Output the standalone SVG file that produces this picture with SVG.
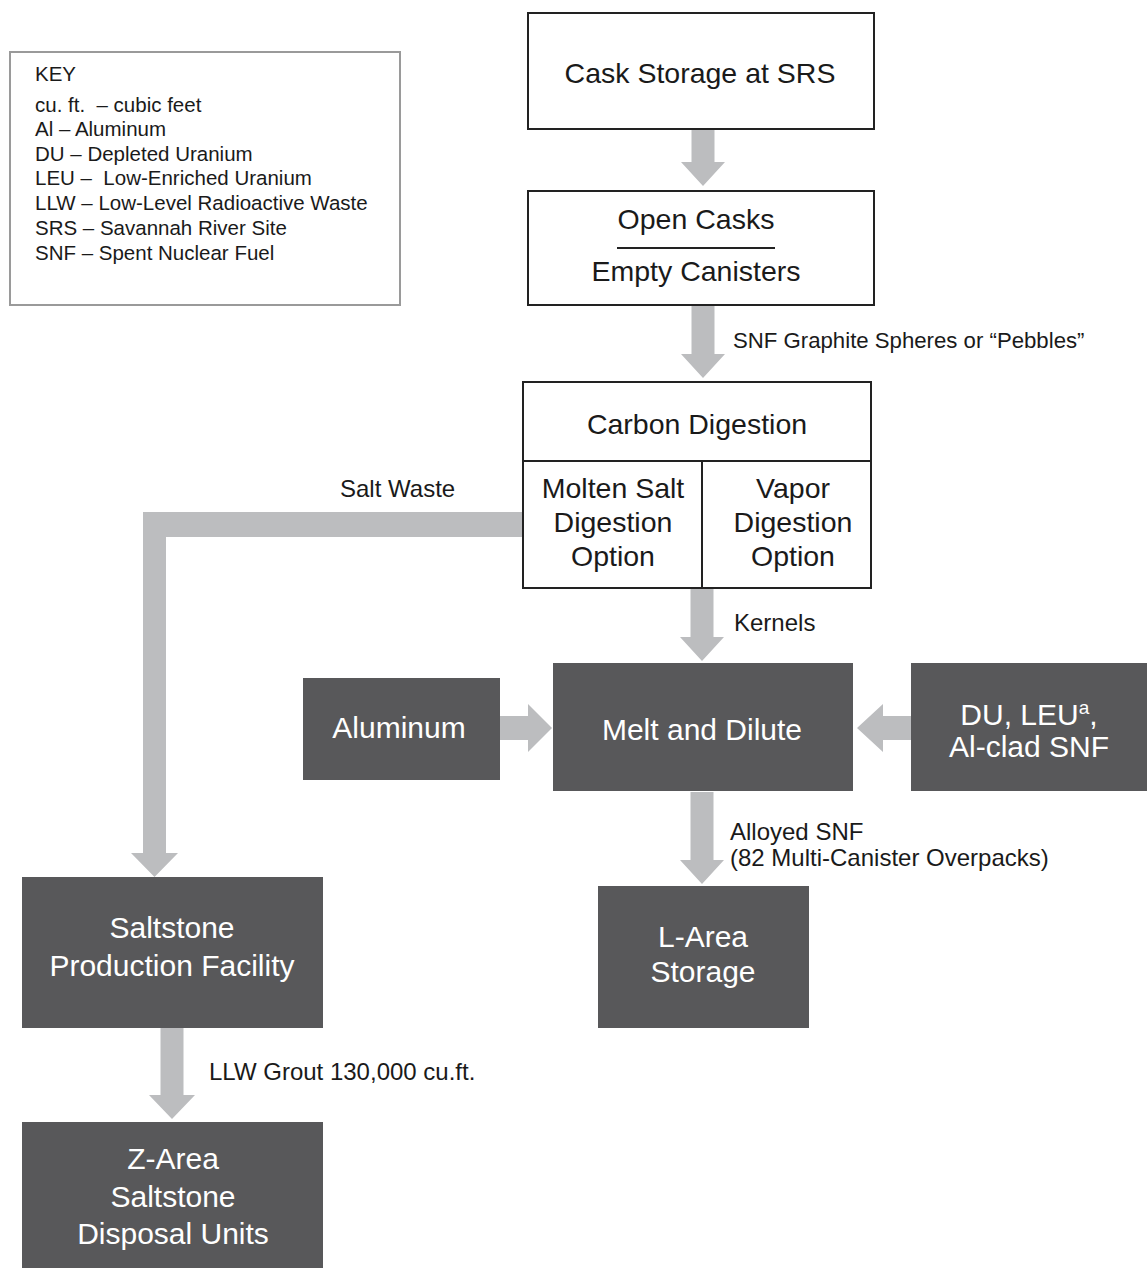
<svg xmlns="http://www.w3.org/2000/svg" width="1147" height="1268" viewBox="0 0 1147 1268">
<style>
text{font-family:"Liberation Sans",Arial,sans-serif}
.box{fill:#fff;stroke:#222;stroke-width:2}
.dark{fill:#58585a}
.arr{fill:#bcbdbf}
.t{font-size:28.5px;fill:#1a1a1a;text-anchor:middle}
.w{font-size:30px;fill:#fff;text-anchor:middle}
.lbl{font-size:24px;fill:#1a1a1a}
.lbl2{font-size:22.2px;fill:#1a1a1a}
.key{font-size:20.5px;fill:#1a1a1a;white-space:pre}
</style>
<rect width="1147" height="1268" fill="#fff"/>
<g id="key">
<rect x="10" y="52" width="390" height="253" fill="#fff" stroke="#9a9a9a" stroke-width="2"/>
<text class="key" x="35" y="81">KEY</text>
<text class="key" x="35" y="112" xml:space="preserve">cu. ft.  – cubic feet</text>
<text class="key" x="35" y="136">Al – Aluminum</text>
<text class="key" x="35" y="161">DU – Depleted Uranium</text>
<text class="key" x="35" y="185" xml:space="preserve">LEU –  Low-Enriched Uranium</text>
<text class="key" x="35" y="210">LLW – Low-Level Radioactive Waste</text>
<text class="key" x="35" y="235">SRS – Savannah River Site</text>
<text class="key" x="35" y="260">SNF – Spent Nuclear Fuel</text>
</g>
<g id="connectors">
<polygon class="arr" points="691.5,130 714.5,130 714.5,162 725,162 703,186 681,162 691.5,162"/>
<polygon class="arr" points="691.5,305 714.5,305 714.5,354 725,354 703,378 681,354 691.5,354"/>
<polygon class="arr" points="690.5,588 713.5,588 713.5,637 724,637 702,661 680,637 690.5,637"/>
<polygon class="arr" points="690.5,792 713.5,792 713.5,860 724,860 702,884 680,860 690.5,860"/>
<polygon class="arr" points="523,512 523,537 166,537 166,853 178,853 154.5,877 131,853 143,853 143,512"/>
<polygon class="arr" points="160.5,1028 183.5,1028 183.5,1095 195,1095 172,1119 149,1095 160.5,1095"/>
<polygon class="arr" points="500,716 528,716 528,704 552,728 528,752 528,740 500,740"/>
<polygon class="arr" points="911,716 883,716 883,704 857,728 883,752 883,740 911,740"/>
<text class="lbl2" x="733" y="348">SNF Graphite Spheres or “Pebbles”</text>
<text class="lbl" x="340" y="497">Salt Waste</text>
<text class="lbl" x="734" y="631">Kernels</text>
<text class="lbl" x="730" y="840">Alloyed SNF</text>
<text class="lbl" x="730" y="866">(82 Multi-Canister Overpacks)</text>
<text class="lbl" x="209" y="1080">LLW Grout 130,000 cu.ft.</text>
</g>
<g id="cask-storage">
<rect class="box" x="528" y="13" width="346" height="116"/>
<text class="t" x="700" y="83">Cask Storage at SRS</text>
</g>
<g id="open-casks">
<rect class="box" x="528" y="191" width="346" height="114"/>
<text class="t" x="696" y="229">Open Casks</text>
<line x1="617" y1="248" x2="775" y2="248" stroke="#222" stroke-width="2"/>
<text class="t" x="696" y="281">Empty Canisters</text>
</g>
<g id="carbon-digestion">
<rect class="box" x="523" y="382" width="348" height="206"/>
<line x1="523" y1="461" x2="871" y2="461" stroke="#222" stroke-width="2"/>
<line x1="702" y1="461" x2="702" y2="588" stroke="#222" stroke-width="2"/>
<text class="t" x="697" y="434">Carbon Digestion</text>
<text class="t" x="613" y="498">Molten Salt</text>
<text class="t" x="613" y="532">Digestion</text>
<text class="t" x="613" y="566">Option</text>
<text class="t" x="793" y="498">Vapor</text>
<text class="t" x="793" y="532">Digestion</text>
<text class="t" x="793" y="566">Option</text>
</g>
<g id="aluminum">
<rect class="dark" x="303" y="678" width="197" height="102"/>
<text class="w" x="399" y="738">Aluminum</text>
</g>
<g id="melt-dilute">
<rect class="dark" x="553" y="663" width="300" height="128"/>
<text class="w" x="702" y="740">Melt and Dilute</text>
</g>
<g id="du-leu">
<rect class="dark" x="911" y="663" width="236" height="128"/>
<text class="w" x="1029" y="725">DU, LEU<tspan style="font-size:19px" dy="-11">a</tspan><tspan dy="11">,</tspan></text>
<text class="w" x="1029" y="757">Al-clad SNF</text>
</g>
<g id="l-area">
<rect class="dark" x="598" y="886" width="211" height="142"/>
<text class="w" x="703" y="947">L-Area</text>
<text class="w" x="703" y="982">Storage</text>
</g>
<g id="saltstone-production">
<rect class="dark" x="22" y="877" width="301" height="151"/>
<text class="w" x="172" y="938">Saltstone</text>
<text class="w" x="172" y="976">Production Facility</text>
</g>
<g id="z-area">
<rect class="dark" x="22" y="1122" width="301" height="146"/>
<text class="w" x="173" y="1169">Z-Area</text>
<text class="w" x="173" y="1207">Saltstone</text>
<text class="w" x="173" y="1244">Disposal Units</text>
</g>
</svg>
